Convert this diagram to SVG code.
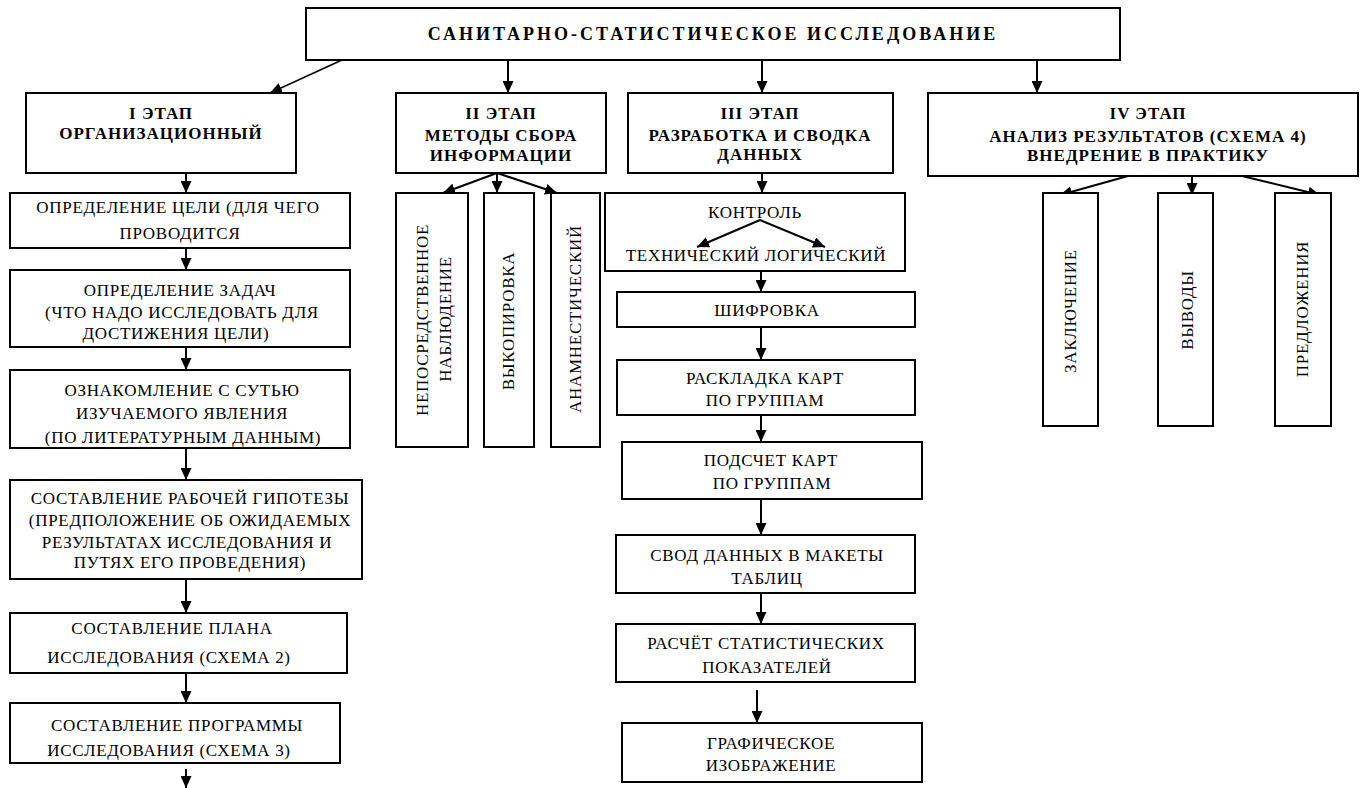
<svg xmlns="http://www.w3.org/2000/svg" width="1361" height="788" viewBox="0 0 1361 788">
<style>
.box{fill:#fff;stroke:#000;stroke-width:2}
.t{font-family:'Liberation Serif','DejaVu Serif',serif;font-size:17px;letter-spacing:0.7px;text-anchor:middle;dominant-baseline:central;fill:#000}
.b{font-weight:bold;letter-spacing:1px}
.title{font-weight:bold;font-size:18px;letter-spacing:3px}
.c{stroke:#000;stroke-width:2;fill:none;marker-end:url(#ah)}
.thin{stroke-width:1.5}
</style>
<defs>
<marker id="ah" markerUnits="userSpaceOnUse" markerWidth="12" markerHeight="11" refX="12" refY="5.5" orient="auto">
<path d="M0,0 L12,5.5 L0,11 z" fill="#000"/>
</marker>
</defs>
<rect width="1361" height="788" fill="#fff"/>

<g id="connectors">
<line class="c thin" x1="342" y1="60" x2="270" y2="93"/>
<line class="c" x1="508" y1="60" x2="508" y2="93"/>
<line class="c" x1="762" y1="60" x2="762" y2="93"/>
<line class="c" x1="1037" y1="60" x2="1037" y2="93"/>
<line class="c" x1="186" y1="173" x2="186" y2="193"/>
<line class="c" x1="186" y1="248" x2="186" y2="270"/>
<line class="c" x1="186" y1="347" x2="186" y2="370"/>
<line class="c" x1="186" y1="448" x2="186" y2="480"/>
<line class="c" x1="186" y1="579" x2="186" y2="613"/>
<line class="c" x1="186" y1="673" x2="186" y2="703"/>
<line class="c" x1="186" y1="769" x2="186" y2="788"/>
<line class="c" x1="497" y1="173" x2="443" y2="193"/>
<line class="c" x1="497" y1="173" x2="497" y2="193"/>
<line class="c" x1="497" y1="173" x2="557" y2="193"/>
<line class="c" x1="762" y1="173" x2="762" y2="193"/>
<line class="c" x1="761" y1="271" x2="761" y2="292"/>
<line class="c" x1="761" y1="327" x2="761" y2="360"/>
<line class="c" x1="761" y1="415" x2="761" y2="442"/>
<line class="c" x1="761" y1="499" x2="761" y2="535"/>
<line class="c" x1="761" y1="593" x2="761" y2="624"/>
<line class="c" x1="757" y1="690" x2="757" y2="723"/>
<line class="c" x1="1128" y1="176" x2="1060" y2="195"/>
<line class="c" x1="1192" y1="176" x2="1192" y2="195"/>
<line class="c" x1="1242" y1="176" x2="1320" y2="195"/>
</g>

<g id="root"><rect class="box" x="306" y="8" width="814" height="52"/>
<text class="t title" x="713" y="34">САНИТАРНО-СТАТИСТИЧЕСКОЕ ИССЛЕДОВАНИЕ</text></g>

<g id="stage1"><rect class="box" x="26" y="93" width="270" height="80"/>
<text class="t b" x="161" y="113">I ЭТАП</text>
<text class="t b" x="161" y="133">ОРГАНИЗАЦИОННЫЙ</text></g>

<g id="stage2"><rect class="box" x="396" y="93" width="210" height="80"/>
<text class="t b" x="501" y="113">II ЭТАП</text>
<text class="t b" x="501" y="135">МЕТОДЫ СБОРА</text>
<text class="t b" x="501" y="155">ИНФОРМАЦИИ</text></g>

<g id="stage3"><rect class="box" x="628" y="93" width="265" height="80"/>
<text class="t b" x="760" y="113">III ЭТАП</text>
<text class="t b" x="760" y="135">РАЗРАБОТКА И СВОДКА</text>
<text class="t b" x="760" y="154">ДАННЫХ</text></g>

<g id="stage4"><rect class="box" x="928" y="93" width="430" height="83"/>
<text class="t b" x="1148" y="113">IV ЭТАП</text>
<text class="t b" x="1148" y="136">АНАЛИЗ РЕЗУЛЬТАТОВ (СХЕМА 4)</text>
<text class="t b" x="1148" y="155">ВНЕДРЕНИЕ В ПРАКТИКУ</text></g>

<g id="s1-goal"><rect class="box" x="10" y="193" width="340" height="55"/>
<text class="t" x="178" y="207">ОПРЕДЕЛЕНИЕ ЦЕЛИ (ДЛЯ ЧЕГО</text>
<text class="t" x="180" y="233">ПРОВОДИТСЯ</text></g>

<g id="s1-tasks"><rect class="box" x="10" y="270" width="340" height="77"/>
<text class="t" x="180" y="290">ОПРЕДЕЛЕНИЕ ЗАДАЧ</text>
<text class="t" x="182" y="312">(ЧТО НАДО ИССЛЕДОВАТЬ ДЛЯ</text>
<text class="t" x="176" y="333">ДОСТИЖЕНИЯ ЦЕЛИ)</text></g>

<g id="s1-review"><rect class="box" x="10" y="370" width="340" height="78"/>
<text class="t" x="182" y="390">ОЗНАКОМЛЕНИЕ С СУТЬЮ</text>
<text class="t" x="182" y="413">ИЗУЧАЕМОГО ЯВЛЕНИЯ</text>
<text class="t" x="183" y="437">(ПО ЛИТЕРАТУРНЫМ ДАННЫМ)</text></g>

<g id="s1-hypothesis"><rect class="box" x="10" y="480" width="352" height="99"/>
<text class="t" x="190" y="498">СОСТАВЛЕНИЕ РАБОЧЕЙ ГИПОТЕЗЫ</text>
<text class="t" x="190" y="520">(ПРЕДПОЛОЖЕНИЕ ОБ ОЖИДАЕМЫХ</text>
<text class="t" x="187" y="542">РЕЗУЛЬТАТАХ ИССЛЕДОВАНИЯ И</text>
<text class="t" x="190" y="562">ПУТЯХ ЕГО ПРОВЕДЕНИЯ)</text></g>

<g id="s1-plan"><rect class="box" x="10" y="613" width="337" height="60"/>
<text class="t" x="172" y="628">СОСТАВЛЕНИЕ ПЛАНА</text>
<text class="t" x="169" y="657">ИССЛЕДОВАНИЯ (СХЕМА 2)</text></g>

<g id="s1-program"><rect class="box" x="10" y="703" width="330" height="60"/>
<text class="t" x="177" y="725">СОСТАВЛЕНИЕ ПРОГРАММЫ</text>
<text class="t" x="169" y="750">ИССЛЕДОВАНИЯ (СХЕМА 3)</text></g>

<g id="s2-direct"><rect class="box" x="396" y="193" width="72" height="254"/>
<text class="t" x="422" y="320" transform="rotate(-90 422 320)">НЕПОСРЕДСТВЕННОЕ</text>
<text class="t" x="445" y="319" transform="rotate(-90 445 319)">НАБЛЮДЕНИЕ</text></g>

<g id="s2-copy"><rect class="box" x="484" y="193" width="50" height="254"/>
<text class="t" x="508" y="321" transform="rotate(-90 508 321)">ВЫКОПИРОВКА</text></g>

<g id="s2-anamnestic"><rect class="box" x="551" y="193" width="49" height="254"/>
<text class="t" x="575" y="319" transform="rotate(-90 575 319)">АНАМНЕСТИЧЕСКИЙ</text></g>

<g id="s3-control"><rect class="box" x="605" y="193" width="300" height="78"/>
<text class="t" x="755" y="212">КОНТРОЛЬ</text>
<text class="t" x="756" y="255">ТЕХНИЧЕСКИЙ ЛОГИЧЕСКИЙ</text>
<line class="c" x1="760" y1="220" x2="697" y2="247"/>
<line class="c" x1="760" y1="220" x2="825" y2="247"/></g>

<g id="s3-coding"><rect class="box" x="617" y="292" width="298" height="35"/>
<text class="t" x="767" y="310">ШИФРОВКА</text></g>

<g id="s3-sort"><rect class="box" x="617" y="360" width="298" height="55"/>
<text class="t" x="765" y="378">РАСКЛАДКА КАРТ</text>
<text class="t" x="765" y="400">ПО ГРУППАМ</text></g>

<g id="s3-count"><rect class="box" x="622" y="442" width="300" height="57"/>
<text class="t" x="771" y="460">ПОДСЧЕТ КАРТ</text>
<text class="t" x="772" y="483">ПО ГРУППАМ</text></g>

<g id="s3-tables"><rect class="box" x="616" y="535" width="299" height="58"/>
<text class="t" x="767" y="555">СВОД ДАННЫХ В МАКЕТЫ</text>
<text class="t" x="767" y="578">ТАБЛИЦ</text></g>

<g id="s3-calc"><rect class="box" x="616" y="624" width="299" height="58"/>
<text class="t" x="766" y="643">РАСЧЁТ СТАТИСТИЧЕСКИХ</text>
<text class="t" x="767" y="667">ПОКАЗАТЕЛЕЙ</text></g>

<g id="s3-graph"><rect class="box" x="622" y="723" width="300" height="59"/>
<text class="t" x="771" y="743">ГРАФИЧЕСКОЕ</text>
<text class="t" x="771" y="765">ИЗОБРАЖЕНИЕ</text></g>

<g id="s4-conclusion"><rect class="box" x="1043" y="193" width="55" height="233"/>
<text class="t" x="1070" y="311" transform="rotate(-90 1070 311)">ЗАКЛЮЧЕНИЕ</text></g>

<g id="s4-findings"><rect class="box" x="1158" y="193" width="55" height="233"/>
<text class="t" x="1187" y="310" transform="rotate(-90 1187 310)">ВЫВОДЫ</text></g>

<g id="s4-proposals"><rect class="box" x="1275" y="193" width="56" height="233"/>
<text class="t" x="1302" y="309" transform="rotate(-90 1302 309)">ПРЕДЛОЖЕНИЯ</text></g>
</svg>
